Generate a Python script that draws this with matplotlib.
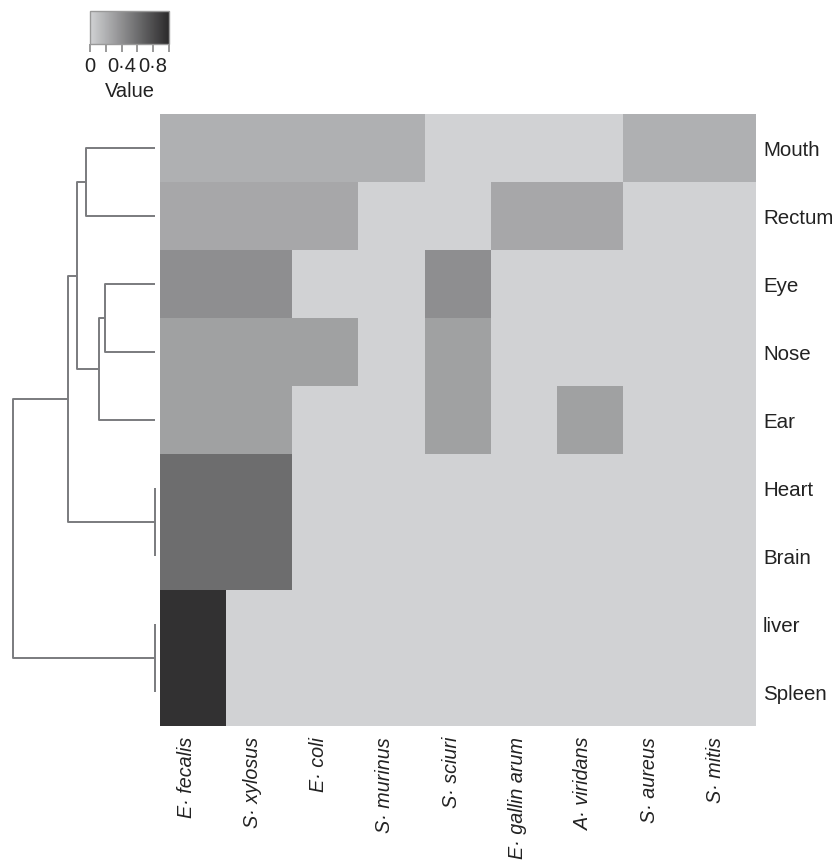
import numpy as np
import matplotlib
matplotlib.use("Agg")
import matplotlib.pyplot as plt
from matplotlib.colors import LinearSegmentedColormap
from matplotlib.transforms import ScaledTranslation

plt.rcParams['font.family'] = ['Liberation Sans', 'DejaVu Sans']

# bacteria (columns) and body sites (rows, top to bottom)
species = ['E· fecalis', 'S· xylosus', 'E· coli', 'S· murinus', 'S· sciuri',
           'E· gallin arum', 'A· viridans', 'S· aureus', 'S· mitis']
sites = ['Mouth', 'Rectum', 'Eye', 'Nose', 'Ear', 'Heart', 'Brain', 'liver', 'Spleen']

values = np.array([
    [0.20, 0.20, 0.20, 0.20, 0.00, 0.00, 0.00, 0.20, 0.20],  # Mouth
    [0.25, 0.25, 0.25, 0.00, 0.00, 0.25, 0.25, 0.00, 0.00],  # Rectum
    [0.40, 0.40, 0.00, 0.00, 0.40, 0.00, 0.00, 0.00, 0.00],  # Eye
    [0.29, 0.29, 0.29, 0.00, 0.29, 0.00, 0.00, 0.00, 0.00],  # Nose
    [0.29, 0.29, 0.00, 0.00, 0.29, 0.00, 0.29, 0.00, 0.00],  # Ear
    [0.60, 0.60, 0.00, 0.00, 0.00, 0.00, 0.00, 0.00, 0.00],  # Heart
    [0.60, 0.60, 0.00, 0.00, 0.00, 0.00, 0.00, 0.00, 0.00],  # Brain
    [0.95, 0.00, 0.00, 0.00, 0.00, 0.00, 0.00, 0.00, 0.00],  # liver
    [0.95, 0.00, 0.00, 0.00, 0.00, 0.00, 0.00, 0.00, 0.00],  # Spleen
])

# row clustering: (child a, child b, height), new clusters numbered from 9
merges = [
    (5, 6, 0.0),     # 9  Heart + Brain
    (7, 8, 0.0),     # 10 liver + Spleen
    (2, 3, 0.352),   # 11 Eye + Nose
    (11, 4, 0.394),  # 12 + Ear
    (0, 1, 0.486),   # 13 Mouth + Rectum
    (13, 12, 0.549), # 14
    (14, 9, 0.613),  # 15
    (15, 10, 1.0),   # 16 root
]

cmap = LinearSegmentedColormap.from_list('greys', ['#d1d2d4', '#2b2a2b'])
line_col = '#7a7b7e'

W, H = 838, 860
fig = plt.figure(figsize=(W / 100, H / 100), dpi=100)

# heatmap
ax = fig.add_axes([160 / W, 1 - 726 / H, 596 / W, 612 / H])
ax.imshow(values, cmap=cmap, vmin=0, vmax=1, aspect='auto', interpolation='nearest')
ax.set_xticks(range(len(species)))
ax.set_xticklabels(species, rotation=90, style='italic', fontsize=14.2, va='top', ha='center')
ax.set_yticks(range(len(sites)))
ax.set_yticklabels(sites, fontsize=14.8)
ax.yaxis.tick_right()
ax.tick_params(axis='y', length=0, pad=5, colors='#222222')
ax.tick_params(axis='x', length=0, pad=8, colors='#222222')
for lab in ax.get_xticklabels():
    lab.set_transform(lab.get_transform() + ScaledTranslation(-7 / 100, 0, fig.dpi_scale_trans))
for s in ax.spines.values():
    s.set_visible(False)

# dendrogram on the left
dax = fig.add_axes([13 / W, 1 - 726 / H, 142 / W, 612 / H])
pos = {i: float(i) for i in range(len(sites))}
hgt = {i: 0.0 for i in range(len(sites))}
for k, (a, b, h) in enumerate(merges):
    node = len(sites) + k
    dax.plot([hgt[a], h, h, hgt[b]], [pos[a], pos[a], pos[b], pos[b]],
             color=line_col, lw=1.4, clip_on=False, solid_capstyle='butt')
    pos[node] = (pos[a] + pos[b]) / 2
    hgt[node] = h
dax.set_xlim(1.0, 0.0)
dax.set_ylim(len(sites) - 0.5, -0.5)
dax.axis('off')

# colour key
cax = fig.add_axes([90 / W, 1 - 44 / H, 79 / W, 33 / H])
sm = plt.cm.ScalarMappable(cmap=cmap, norm=plt.Normalize(0, 1))
cb = fig.colorbar(sm, cax=cax, orientation='horizontal')
cb.set_ticks([0, 0.2, 0.4, 0.6, 0.8, 1.0])
cb.set_ticklabels(['0', '', '0·4', '', '0·8', ''])
cb.outline.set_edgecolor('#999999')
cb.outline.set_linewidth(1.0)
cax.tick_params(length=6, width=1.2, color='#888888', labelsize=14.5, pad=3, labelcolor='#222222')
cb.set_label('Value', fontsize=14.5, labelpad=5, color='#222222')

fig.savefig('out.png', dpi=100)
